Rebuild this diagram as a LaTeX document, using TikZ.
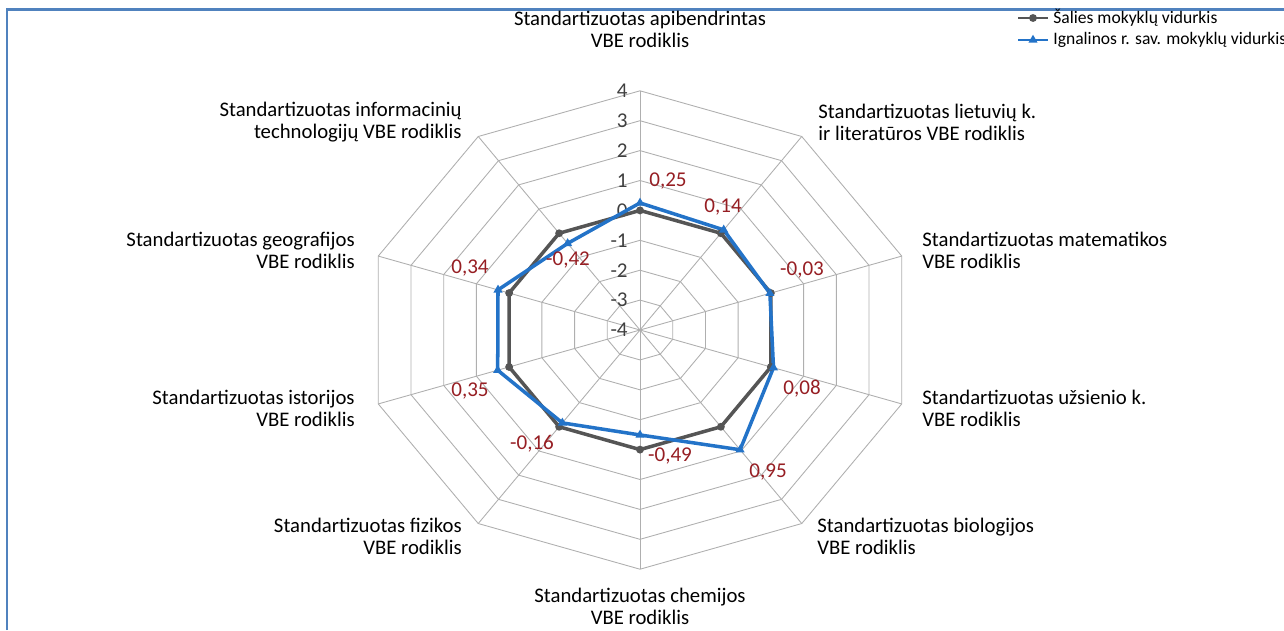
\documentclass[tikz,border=0pt]{standalone}
\usepackage{fontspec}
\setmainfont{Carlito}
\usetikzlibrary{shapes.geometric}

\definecolor{gridgray}{RGB}{175,175,175}
\definecolor{avggray}{RGB}{85,85,85}
\definecolor{ignblue}{RGB}{35,115,200}
\definecolor{valred}{RGB}{150,30,35}
\definecolor{framebl}{RGB}{80,130,190}

\tikzset{
  axislabel/.style={font=\fontsize{11.8}{12.4}\selectfont,inner sep=0pt},
  legendlabel/.style={font=\fontsize{10}{11}\selectfont,inner sep=0pt,anchor=west},
  valuelabel/.style={font=\fontsize{12}{12}\selectfont,text=valred,inner sep=0pt},
  ticklabel/.style={font=\fontsize{12}{12}\selectfont,text=black!75,anchor=east,inner sep=0pt},
  gridline/.style={draw=gridgray,line width=0.5pt},
  avgline/.style={draw=avggray,line width=2pt,line join=round},
  ignline/.style={draw=ignblue,line width=2pt,line join=round},
  avgmark/.style={circle,fill=avggray,inner sep=0pt,minimum size=4.5pt},
  ignmark/.style={regular polygon,regular polygon sides=3,fill=ignblue,inner sep=0pt,minimum size=6pt}
}

\begin{document}
\begin{tikzpicture}[x=0.02cm,y=-0.02cm]
\useasboundingbox (0,0) rectangle (1284,630);
\draw[framebl,line width=1.7pt] (7,630) -- (7,9) -- (1284,9);

% rings and spokes
\foreach \r in {1,...,8}
  \draw[gridline] (640,{330-29.9*\r}) \foreach \k in {1,...,9} { -- ({640+34.4*\r*sin(36*\k)},{330-29.9*\r*cos(36*\k)}) } -- cycle;
\foreach \k in {0,...,9}
  \draw[gridline] (640,330) -- ({640+275.2*sin(36*\k)},{330-239.2*cos(36*\k)});

% scale
\foreach \v in {-4,...,4}
  \node[ticklabel] (t\v) at (628,{330-29.9*(\v+4)}) {\v};

% data points
\foreach \k/\b in {0/0.25,1/0.14,2/-0.03,3/0.08,4/0.95,5/-0.49,6/-0.16,7/0.35,8/0.34,9/-0.42} {
  \coordinate (g\k) at ({640+34.4*4*sin(36*\k)},{330-29.9*4*cos(36*\k)});
  \coordinate (b\k) at ({640+34.4*(\b+4)*sin(36*\k)},{330-29.9*(\b+4)*cos(36*\k)});
}
\draw[avgline] (g0) -- (g1) -- (g2) -- (g3) -- (g4) -- (g5) -- (g6) -- (g7) -- (g8) -- (g9) -- cycle;
\draw[ignline] (b0) -- (b1) -- (b2) -- (b3) -- (b4) -- (b5) -- (b6) -- (b7) -- (b8) -- (b9) -- cycle;
\foreach \k in {0,...,9} {
  \node[avgmark] at (g\k) {};
  \node[ignmark] at (b\k) {};
}

% values
\node[valuelabel] (v0) at (668,181) {0,25};
\node[valuelabel] (v1) at (723,207) {0,14};
\node[valuelabel] (v2) at (802,270) {-0,03};
\node[valuelabel] (v3) at (802,389) {0,08};
\node[valuelabel] (v4) at (768,472) {0,95};
\node[valuelabel] (v5) at (670,456) {-0,49};
\node[valuelabel] (v6) at (532,444) {-0,16};
\node[valuelabel] (v7) at (470,391) {0,35};
\node[valuelabel] (v8) at (470,268) {0,34};
\node[valuelabel] (v9) at (568,260) {-0,42};

% axis names
\node[axislabel,align=center] (l0) at (640,29) {Standartizuotas apibendrintas\\VBE rodiklis};
\node[axislabel,align=left,anchor=west] (l1) at (818,122) {Standartizuotas lietuvių k.\\ir literatūros VBE rodiklis};
\node[axislabel,align=left,anchor=west] (l2) at (922,250) {Standartizuotas matematikos\\VBE rodiklis};
\node[axislabel,align=left,anchor=west] (l3) at (922,408) {Standartizuotas užsienio k.\\VBE rodiklis};
\node[axislabel,align=left,anchor=west] (l4) at (817,536) {Standartizuotas biologijos\\VBE rodiklis};
\node[axislabel,align=center] (l5) at (640,606) {Standartizuotas chemijos\\VBE rodiklis};
\node[axislabel,align=right,anchor=east] (l6) at (462,536) {Standartizuotas fizikos\\VBE rodiklis};
\node[axislabel,align=right,anchor=east] (l7) at (355,408) {Standartizuotas istorijos\\VBE rodiklis};
\node[axislabel,align=right,anchor=east] (l8) at (355,250) {Standartizuotas geografijos\\VBE rodiklis};
\node[axislabel,align=right,anchor=east] (l9) at (462,122) {Standartizuotas informacinių\\technologijų VBE rodiklis};

% legend
\coordinate (a1) at (1018,18);
\coordinate (a2) at (1048,18);
\coordinate (c1) at (1018,40);
\coordinate (c2) at (1048,40);
\draw[avggray,line width=1.5pt] (a1) -- (a2);
\node[avgmark] at (1033,18) {};
\draw[ignblue,line width=1.5pt] (c1) -- (c2);
\node[ignmark] at (1033,40) {};
\node[legendlabel] (k1) at (1053,18) {Šalies mokyklų vidurkis};
\node[legendlabel] (k2) at (1053,40) {Ignalinos r. sav. mokyklų vidurkis};
\end{tikzpicture}
\end{document}
